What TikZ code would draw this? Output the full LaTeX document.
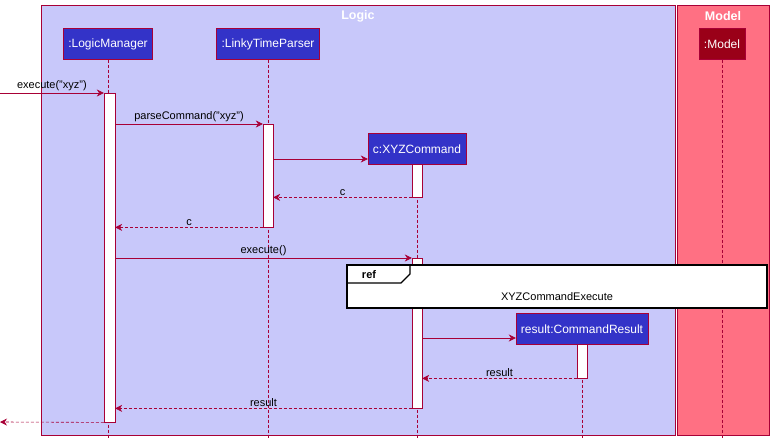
\documentclass[tikz,border=0pt]{standalone}
\usepackage{fontspec}
\setmainfont{Liberation Sans}
\usetikzlibrary{positioning,arrows.meta}
\definecolor{umlRed}{HTML}{A80036}
\definecolor{logicBg}{HTML}{C8C8FA}
\definecolor{modelBg}{HTML}{FF7083}
\definecolor{partBlue}{HTML}{3333C8}
\definecolor{modelPart}{HTML}{9A0018}
\tikzset{%
  % styles of the diagram
    x=1pt, y=-1pt,
    >={Stealth[width=7pt,length=7pt]},
    every node/.style={font=\fontsize{11}{13}\selectfont},
    participant/.style = {rectangle,draw=umlRed,fill=partBlue,text=white,inner sep=5pt,minimum height=31pt,font=\fontsize{12}{14}\selectfont},
    lifeline/.style = {umlRed,densely dashed,line width=0.6pt},
    activation/.style = {draw=umlRed,fill=white},
    msg/.style = {->,umlRed,line width=0.6pt},
    ret/.style = {->,umlRed,densely dashed,line width=0.6pt},
    msgLabel/.style = {above=0pt,inner sep=1.5pt,text=black},
}
\begin{document}
\begin{tikzpicture}
	\useasboundingbox (0,0) rectangle (774,446);
	% boxes
	\draw[umlRed,fill=logicBg] (41,5) rectangle (675,435);
	\draw[umlRed,fill=modelBg] (677,5) rectangle (769,435);
	\node[text=white,font=\bfseries\fontsize{12.5}{14}\selectfont] (logicTitle) at (358,16) {Logic};
	\node[text=white,font=\bfseries\fontsize{12.5}{14}\selectfont] (modelTitle) at (723,16) {Model};

	% participants
	\node [participant] (lm) at (108,44) {:LogicManager};
	\node [participant] (ltp) at (268,44) {:LinkyTimeParser};
	\node [participant,fill=modelPart] (model) at (722,44) {:Model};
	\node [participant] (xyz) at (417,149) {c:XYZCommand};
	\node [participant] (cr) at (582,329) {result:CommandResult};

	% lifelines
	\draw[lifeline] (lm.south) -- (108,438);
	\draw[lifeline] (ltp.south) -- (268,438);
	\draw[lifeline] (model.south) -- (722,438);
	\draw[lifeline] (xyz.south) -- (417,438);
	\draw[lifeline] (cr.south) -- (582,438);

	% activations
	\node [activation,minimum width=11pt,minimum height=329pt,inner sep=0,anchor=north] (lmAct) at (109.5,93) {};
	\node [activation,minimum width=10pt,minimum height=103pt,inner sep=0,anchor=north] (ltpAct) at (268,124) {};
	\node [activation,minimum width=10pt,minimum height=33pt,inner sep=0,anchor=north] (xyzAct1) at (417,164) {};
	\node [activation,minimum width=10pt,minimum height=150pt,inner sep=0,anchor=north] (xyzAct2) at (417,258) {};
	\node [activation,minimum width=10pt,minimum height=34pt,inner sep=0,anchor=north] (crAct) at (582,344) {};

	% messages
	\coordinate (start) at (0,93);
	\coordinate (finish) at (0,422);
	\coordinate (xyzIn) at ([yshift=-10pt]xyz.west);
	\coordinate (crIn) at ([yshift=-9pt]cr.west);
	\draw[msg] (start) -- (lmAct.north west) node[msgLabel,midway] {execute("xyz")};
	\draw[msg] (lmAct.east |- ltpAct.north) -- (ltpAct.north west) node[msgLabel,midway] {parseCommand("xyz")};
	\draw[msg] (ltpAct.east |- xyzIn) -- (xyzIn);
	\draw[ret] (xyzAct1.south west) -- (ltpAct.east |- xyzAct1.south) node[msgLabel,midway] {c};
	\draw[ret] (ltpAct.south west) -- (lmAct.east |- ltpAct.south) node[msgLabel,midway] {c};
	\draw[msg] (lmAct.east |- xyzAct2.north) -- (xyzAct2.north west) node[msgLabel,midway] {execute()};
	\draw[msg] (xyzAct2.east |- crIn) -- (crIn);
	\draw[ret] (crAct.south west) -- (xyzAct2.east |- crAct.south) node[msgLabel,midway] {result};
	\draw[ret] (xyzAct2.south west) -- (lmAct.east |- xyzAct2.south) node[msgLabel,midway] {result};
	\draw[ret] (lmAct.south west) -- (finish);

	% ref frame
	\draw[black,fill=white,line width=1.2pt] (347,265) rectangle (767,308);
	\draw[black,line width=1.2pt] (347,265) -- (347,283) -- (401,283) -- (410,274) -- (410,265);
	\node[font=\bfseries\fontsize{11}{13}\selectfont] (refTag) at (369,275) {ref};
	\node (refText) at (557,297) {XYZCommandExecute};
\end{tikzpicture}
\end{document}
